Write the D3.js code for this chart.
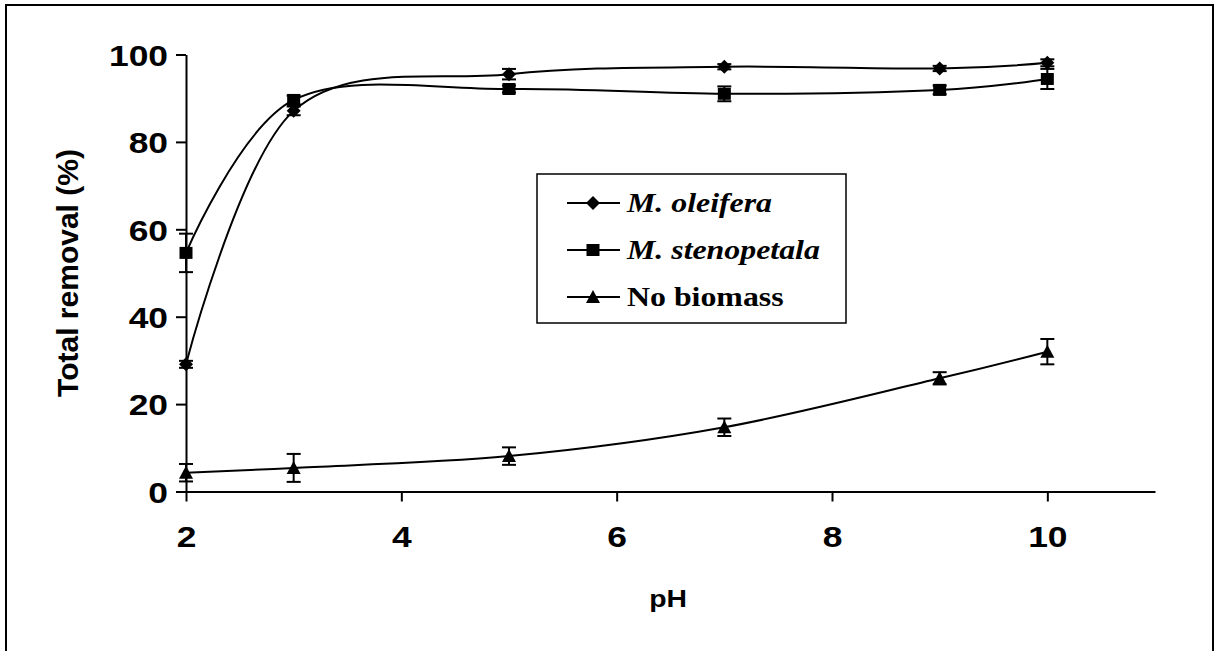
<!DOCTYPE html>
<html>
<head>
<meta charset="utf-8">
<script src="https://cdn.jsdelivr.net/npm/d3@7"></script>
<style>
  html, body { margin: 0; padding: 0; background: #fff; }
  svg { display: block; }
</style>
</head>
<body>
<svg id="chart" width="1219" height="651"></svg>
<script>
// pH values at which removal was measured
const pH = [2, 3, 5, 7, 9, 10];

// Total removal (%) and standard deviations for each treatment
const oleifera       = [29.1, 87.1, 95.5, 97.2, 96.8, 98.1];
const oleiferaErr    = [0.8, 1.0, 1.2, 0.6, 0.6, 0.8];
const stenopetala    = [54.6, 89.6, 92.1, 91.0, 91.9, 94.4];
const stenopetalaErr = [4.4, 1.0, 0.8, 1.7, 1.0, 2.3];
const noBiomass      = [4.3, 5.4, 8.1, 14.7, 25.9, 32.0];
const noBiomassErr   = [2.0, 3.2, 2.0, 2.0, 1.4, 2.9];

const seriesNames = ["M. oleifera", "M. stenopetala", "No biomass"];
const xTicks = [2, 4, 6, 8, 10];
const yTicks = [0, 20, 40, 60, 80, 100];
const xTitle = "pH";
const yTitle = "Total removal (%)";

const series = [
  { name: seriesNames[0], values: oleifera,    err: oleiferaErr,    shape: "diamond",  italic: true },
  { name: seriesNames[1], values: stenopetala, err: stenopetalaErr, shape: "square",   italic: true },
  { name: seriesNames[2], values: noBiomass,   err: noBiomassErr,   shape: "triangle", italic: false }
];

const svg = d3.select("#chart");
const STRETCH = 1.18;   // wide glyphs of the original layout

// outer frame
svg.append("rect")
  .attr("x", 6).attr("y", 5).attr("width", 1207).attr("height", 700)
  .attr("fill", "none").attr("stroke", "#000").attr("stroke-width", 2);

const x = d3.scaleLinear().domain([2, 11]).range([186, 1155]);
const y = d3.scaleLinear().domain([0, 100]).range([491.5, 54.5]);

// axes
const yAxis = svg.append("g")
  .attr("transform", `translate(${x(2)},0)`)
  .call(d3.axisLeft(y).tickValues(yTicks).tickSize(10).tickSizeOuter(0).tickPadding(9));
const xAxis = svg.append("g")
  .attr("transform", `translate(0,${y(0)})`)
  .call(d3.axisBottom(x).tickValues(xTicks).tickSize(10).tickSizeOuter(0).tickPadding(0));

[yAxis, xAxis].forEach(g => {
  g.select(".domain").attr("stroke", "#000").attr("stroke-width", 2);
  g.selectAll(".tick line").attr("stroke", "#000").attr("stroke-width", 2);
  g.selectAll(".tick text")
    .attr("fill", "#000")
    .style("font-family", "'Liberation Sans', Arial, sans-serif")
    .style("font-weight", "bold")
    .style("font-size", "30px");
});
yAxis.selectAll(".tick text")
  .attr("x", null).attr("dy", "0.36em")
  .attr("transform", `translate(-18,0) scale(${STRETCH},1)`);
xAxis.selectAll(".tick text")
  .attr("y", null).attr("dy", null)
  .attr("transform", `translate(0,55) scale(${STRETCH},1)`);

// axis titles
svg.append("text")
  .attr("transform", `translate(${668},${607}) scale(${STRETCH},1)`)
  .attr("text-anchor", "middle")
  .style("font-family", "'Liberation Sans', Arial, sans-serif")
  .style("font-weight", "bold").style("font-size", "24px")
  .text(xTitle);
svg.append("text")
  .attr("transform", `translate(${78},${y(50)}) rotate(-90)`)
  .attr("text-anchor", "middle")
  .style("font-family", "'Liberation Sans', Arial, sans-serif")
  .style("font-weight", "bold").style("font-size", "30px")
  .text(yTitle);

// smoothed connecting lines
const line = d3.line()
  .x((d, i) => x(pH[i]))
  .y(d => y(d))
  .curve(d3.curveCardinal.tension(0));

series.forEach(s => {
  svg.append("path")
    .attr("d", line(s.values))
    .attr("fill", "none").attr("stroke", "#000").attr("stroke-width", 2);
});

// error bars
series.forEach(s => {
  const g = svg.append("g").attr("stroke", "#000").attr("stroke-width", 2);
  s.values.forEach((v, i) => {
    const cx = x(pH[i]);
    const top = y(v + s.err[i]), bot = y(v - s.err[i]);
    g.append("line").attr("x1", cx).attr("x2", cx).attr("y1", top).attr("y2", bot);
    g.append("line").attr("x1", cx - 7).attr("x2", cx + 7).attr("y1", top).attr("y2", top);
    g.append("line").attr("x1", cx - 7).attr("x2", cx + 7).attr("y1", bot).attr("y2", bot);
  });
});

// marker shapes
function markerPath(shape) {
  if (shape === "diamond") return "M0,-7L7,0L0,7L-7,0Z";
  if (shape === "square") return "M-6.5,-6L6.5,-6L6.5,6L-6.5,6Z";
  return "M0,-7L7,6L-7,6Z";
}

series.forEach(s => {
  svg.append("g").selectAll("path")
    .data(s.values)
    .join("path")
    .attr("transform", (d, i) => `translate(${x(pH[i])},${y(d)})`)
    .attr("d", markerPath(s.shape))
    .attr("fill", "#000");
});

// legend
const legend = svg.append("g");
legend.append("rect")
  .attr("x", 537).attr("y", 174).attr("width", 309).attr("height", 149)
  .attr("fill", "#fff").attr("stroke", "#000").attr("stroke-width", 1.5);
const rowY = [203, 250, 297];
series.forEach((s, i) => {
  const ry = rowY[i];
  legend.append("line")
    .attr("x1", 567).attr("x2", 620).attr("y1", ry).attr("y2", ry)
    .attr("stroke", "#000").attr("stroke-width", 2);
  legend.append("path")
    .attr("transform", `translate(593,${ry})`)
    .attr("d", markerPath(s.shape)).attr("fill", "#000");
  legend.append("text")
    .attr("transform", `translate(627,${ry + 9}) scale(${STRETCH},1)`)
    .style("font-family", "'Liberation Serif', 'Times New Roman', serif")
    .style("font-weight", "bold")
    .style("font-style", s.italic ? "italic" : "normal")
    .style("font-size", "27px")
    .text(s.name);
});
</script>
</body>
</html>
